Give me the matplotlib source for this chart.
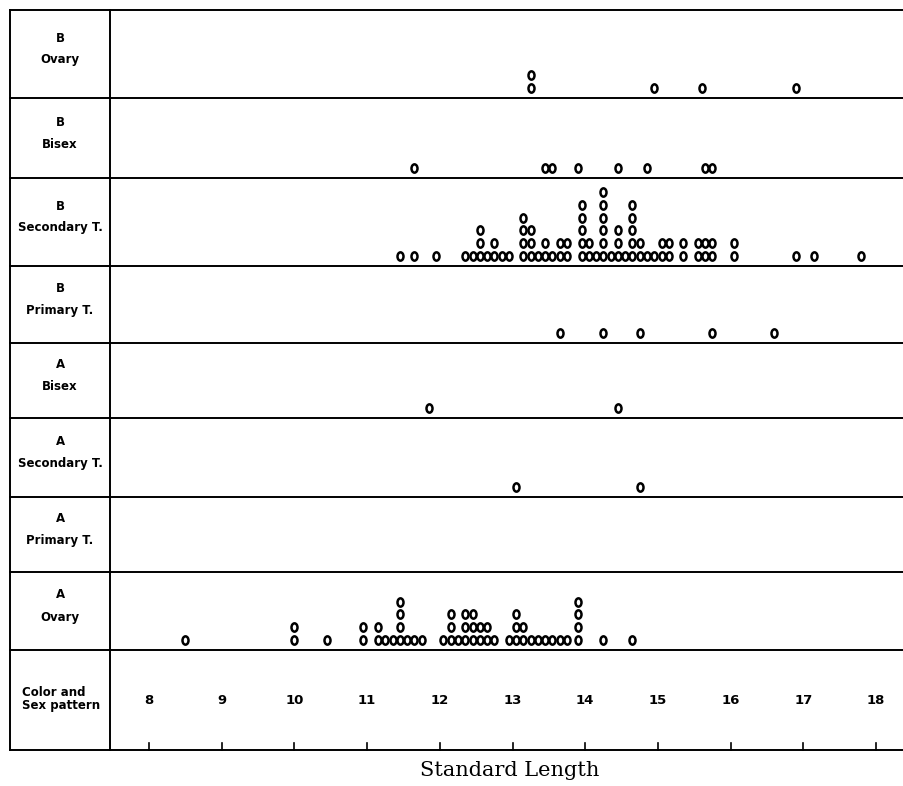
import matplotlib
matplotlib.use("Agg")
import matplotlib.pyplot as plt
from matplotlib.path import Path
import numpy as np

# standard length (columns) and number of fish stacked in each column
b_ovary_len = [13.25, 14.95, 15.6, 16.9]
b_ovary_n = [2, 1, 1, 1]

b_bisex_len = [11.65, 13.45, 13.55, 13.9, 14.45, 14.85, 15.65, 15.75]
b_bisex_n = [1, 1, 1, 1, 1, 1, 1, 1]

b_sec_len = [11.45, 11.65, 11.95,
             12.35, 12.45, 12.55, 12.65, 12.75, 12.85, 12.95,
             13.15, 13.25, 13.35, 13.45, 13.55, 13.65, 13.75,
             13.95, 14.05, 14.15, 14.25, 14.35, 14.45, 14.55, 14.65, 14.75,
             14.85, 14.95, 15.05, 15.15,
             15.35, 15.55, 15.65, 15.75, 16.05, 16.9, 17.15, 17.8]
b_sec_n = [1, 1, 1,
           1, 1, 3, 1, 2, 1, 1,
           4, 3, 1, 2, 1, 2, 2,
           5, 2, 1, 6, 1, 3, 1, 5, 2,
           1, 1, 2, 2,
           2, 2, 2, 2, 2, 1, 1, 1]

b_prim_len = [13.65, 14.25, 14.75, 15.75, 16.6]
b_prim_n = [1, 1, 1, 1, 1]

a_bisex_len = [11.85, 14.45]
a_bisex_n = [1, 1]

a_sec_len = [13.05, 14.75]
a_sec_n = [1, 1]

a_prim_len = []
a_prim_n = []

a_ovary_len = [8.5, 10.0, 10.45, 10.95,
               11.15, 11.25, 11.35, 11.45, 11.55, 11.65, 11.75,
               12.05, 12.15, 12.25, 12.35, 12.45, 12.55, 12.65, 12.75,
               12.95, 13.05, 13.15, 13.25, 13.35, 13.45, 13.55, 13.65, 13.75,
               13.9, 14.25, 14.65]
a_ovary_n = [1, 2, 1, 2,
             2, 1, 1, 4, 1, 1, 1,
             1, 3, 1, 3, 3, 2, 2, 1,
             1, 3, 2, 1, 1, 1, 1, 1, 1,
             4, 1, 1]

row_color = ["B", "B", "B", "B", "A", "A", "A", "A"]
row_sex = ["Ovary", "Bisex", "Secondary T.", "Primary T.",
           "Bisex", "Secondary T.", "Primary T.", "Ovary"]
row_len = [b_ovary_len, b_bisex_len, b_sec_len, b_prim_len,
           a_bisex_len, a_sec_len, a_prim_len, a_ovary_len]
row_n = [b_ovary_n, b_bisex_n, b_sec_n, b_prim_n,
         a_bisex_n, a_sec_n, a_prim_n, a_ovary_n]
ticks = list(range(8, 19))

# layout in pixels
W, H = 904, 786
px_per = 72.7
x0_px = 149
row_lines = [10, 98, 178, 266, 343, 418, 497, 572, 650, 750]
left_px, div_px = 10, 110

fig = plt.figure(figsize=(W / 100, H / 100), dpi=100)
ax = fig.add_axes([0, 0, 1, 1])
ax.set_xlim(8 - x0_px / px_per, 8 + (W - x0_px) / px_per)
ax.set_ylim(H, 0)
ax.axis("off")

def px2x(p):
    return 8 + (p - x0_px) / px_per

label_font = ["Liberation Sans Narrow", "DejaVu Sans"]

# table frame
for y in row_lines:
    ax.plot([px2x(left_px), px2x(W)], [y, y], color="black", lw=1.4)
ax.plot([px2x(left_px)] * 2, [row_lines[0], row_lines[-1]], color="black", lw=1.4)
ax.plot([px2x(div_px)] * 2, [row_lines[0], row_lines[-1]], color="black", lw=1.4)

# oval "o" marker
circ = Path.unit_circle()
oval = Path(circ.vertices * np.array([0.72, 1.0]), circ.codes)

lab_x = px2x((left_px + div_px) / 2)
for i in range(len(row_sex)):
    top, bot = row_lines[i], row_lines[i + 1]
    mid = (top + bot) / 2
    ax.text(lab_x, mid - 16, row_color[i], ha="center", va="center",
            fontsize=8.5, fontweight="bold", family=label_font)
    ax.text(lab_x, mid + 6, row_sex[i], ha="center", va="center",
            fontsize=8.5, fontweight="bold", family=label_font)
    xs, ys = [], []
    for v, n in zip(row_len[i], row_n[i]):
        for k in range(n):
            xs.append(v)
            ys.append(bot - 10 - 12.8 * k)
    ax.plot(xs, ys, linestyle="none", marker=oval, ms=6.0, mfc="white",
            mec="black", mew=1.8)

# axis row
ax.text(px2x(22), row_lines[-2] + 36, "Color and\nSex pattern", ha="left", va="top",
        fontsize=8.5, fontweight="bold", family=label_font, linespacing=0.95)
for t in ticks:
    ax.text(t, 700, str(t), ha="center", va="center", fontsize=9.5,
            fontweight="bold", family=label_font)
    ax.plot([t, t], [row_lines[-1] - 7, row_lines[-1]], color="black", lw=1.2)

ax.text(px2x(510), 770, "Standard Length", ha="center", va="center",
        fontsize=15, family="DejaVu Serif")

fig.savefig("out.png", dpi=100)
